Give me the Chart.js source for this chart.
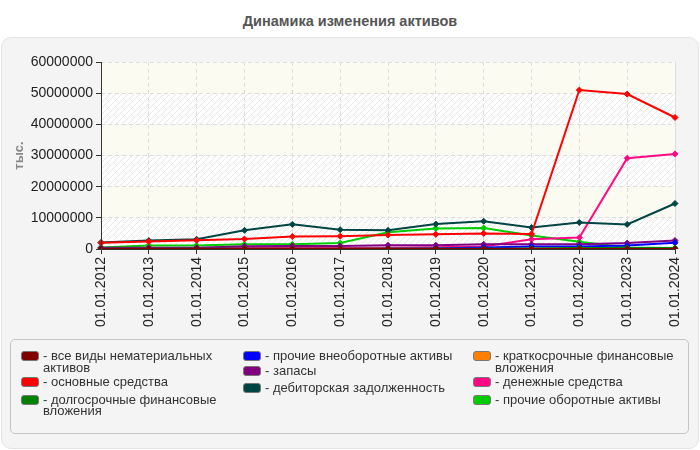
<!DOCTYPE html>
<html><head><meta charset="utf-8">
<script src="https://cdn.jsdelivr.net/npm/chart.js@4"></script>
<style>
html,body{margin:0;padding:0;background:#fff;width:700px;height:450px;overflow:hidden;font-family:"Liberation Sans",Arial,sans-serif;}
#title{position:absolute;left:0;top:13px;width:700px;text-align:center;font-weight:bold;font-size:14.5px;color:#555;}
#panel{position:absolute;left:1px;top:37px;width:696px;height:410px;background:#f4f4f4;border:1px solid #e4e4e4;border-radius:10px;}
#cv{position:absolute;left:0;top:0;}
#legend{position:absolute;left:10px;top:339px;width:677px;height:93px;border:1px solid #c4c4c4;border-radius:5px;}
.col{position:absolute;top:10px;}
.item{position:relative;padding-left:22px;font-size:13px;line-height:11.5px;color:#333;}
.item:nth-child(1){margin-bottom:3px;}
.item:nth-child(2){margin-bottom:6px;}
.box{position:absolute;left:0;top:1px;width:16px;height:8px;border-radius:3px;border:1px solid #777;}
</style></head>
<body>
<div id="title">Динамика изменения активов</div>
<div id="panel"></div>
<canvas id="cv" width="700" height="340"></canvas>
<div id="legend"></div>
<script>
const categories = ["01.01.2012","01.01.2013","01.01.2014","01.01.2015","01.01.2016","01.01.2017","01.01.2018","01.01.2019","01.01.2020","01.01.2021","01.01.2022","01.01.2023","01.01.2024"];
const intangible   = [10000,10000,10000,10000,10000,10000,10000,10000,10000,10000,10000,10000,10000];
const fixedAssets  = [2000000,2400000,2800000,3200000,4000000,4100000,4500000,4700000,5000000,4800000,51000000,49700000,42200000];
const longTermFin  = [50000,50000,50000,50000,50000,50000,50000,50000,100000,200000,300000,300000,300000];
const otherNonCur  = [20000,20000,20000,20000,20000,20000,100000,200000,500000,800000,800000,1100000,2000000];
const inventory    = [400000,400000,400000,900000,1000000,1000000,1200000,1200000,1500000,1500000,1500000,1900000,2700000];
const receivables  = [2100000,2700000,3100000,6000000,7900000,6200000,6000000,8000000,8900000,6900000,8500000,7900000,14600000];
const shortTermFin = [10000,10000,10000,10000,10000,10000,50000,100000,100000,100000,100000,100000,100000];
const cash         = [300000,300000,300000,300000,300000,300000,400000,600000,800000,3100000,3700000,29100000,30500000];
const otherCur     = [500000,1100000,1100000,1500000,1500000,1900000,5400000,6600000,6700000,4300000,2300000,500000,300000];
const yTicks = [0,10000000,20000000,30000000,40000000,50000000,60000000];

const seriesNames = ["все виды нематериальных активов","основные средства","долгосрочные финансовые вложения","прочие внеоборотные активы","запасы","дебиторская задолженность","краткосрочные финансовые вложения","денежные средства","прочие оборотные активы"];
const seriesData = [intangible,fixedAssets,longTermFin,otherNonCur,inventory,receivables,shortTermFin,cash,otherCur];
const seriesColors = ["#800000","#ff0000","#008000","#0000ff","#800080","#004444","#ff8000","#ff0a84","#00cc00"];
const yAxisTitle = "тыс.";

// hatch pattern tile
const pc = document.createElement('canvas'); pc.width=6; pc.height=6;
const px = pc.getContext('2d');
px.fillStyle='#ffffff'; px.fillRect(0,0,6,6);
px.strokeStyle='#e6e6e6'; px.lineWidth=1;
px.beginPath(); px.moveTo(0,6); px.lineTo(6,0); px.moveTo(-3,3); px.lineTo(3,-3); px.moveTo(3,9); px.lineTo(9,3); px.stroke();

const bandPlugin = {
  id:'bands',
  beforeDraw(chart){
    const ctx=chart.ctx, a=chart.chartArea, ys=chart.scales.y;
    const pat = ctx.createPattern(pc,'repeat');
    ctx.save();
    for(let i=0;i<yTicks.length-1;i++){
      const y0=ys.getPixelForValue(yTicks[i]), y1=ys.getPixelForValue(yTicks[i+1]);
      ctx.fillStyle = (i%2===0)? pat : '#fbfbf1';
      ctx.fillRect(a.left,y1,a.right-a.left,y0-y1);
    }
    ctx.strokeStyle='#dcdcdc'; ctx.lineWidth=1;
    ctx.beginPath(); ctx.moveTo(a.right+0.5,a.top); ctx.lineTo(a.right+0.5,a.bottom); ctx.stroke();
    ctx.restore();
  }
};
const axisPlugin = {
  id:'axes',
  afterDraw(chart){
    const ctx=chart.ctx,a=chart.chartArea;
    ctx.save(); ctx.strokeStyle='#333'; ctx.lineWidth=1; ctx.setLineDash([]);
    ctx.beginPath(); ctx.moveTo(a.left+0.5,a.top); ctx.lineTo(a.left+0.5,a.bottom+0.5); ctx.lineTo(a.right,a.bottom+0.5); ctx.stroke();
    ctx.restore();
  }
};

const datasets = seriesNames.map((n,i)=>({
  label:n, data:seriesData[i], borderColor:seriesColors[i], backgroundColor:seriesColors[i],
  borderWidth:2, pointStyle:'rectRot', pointRadius:3, pointBorderWidth:1, tension:0, fill:false
}));

new Chart(document.getElementById('cv'),{
  type:'line',
  data:{labels:categories,datasets:datasets},
  plugins:[bandPlugin,axisPlugin],
  options:{
    responsive:false, animation:false, devicePixelRatio:1,
    layout:{padding:{left:12,top:62,right:25,bottom:0}},
    plugins:{legend:{display:false},tooltip:{enabled:false},title:{display:false}},
    scales:{
      x:{
        grid:{color:'#dddddd',tickColor:'#333',tickLength:5,drawTicks:true},
        border:{display:false,dash:[4,3]},
        ticks:{maxRotation:90,minRotation:90,color:'#222',font:{family:'Liberation Sans',size:14},padding:3,autoSkip:false},
        afterFit(s){s.height=91;}
      },
      y:{
        min:0,max:60000000,
        afterBuildTicks(s){s.ticks=yTicks.map(v=>({value:v}));},
        grid:{color:'#dddddd',tickColor:'#333',tickLength:5},
        border:{display:false,dash:[4,3]},
        ticks:{color:'#222',font:{family:'Liberation Sans',size:14},padding:3,callback:v=>String(v)},
        title:{display:true,text:yAxisTitle,color:'#888',font:{family:'Liberation Sans',size:13,weight:'bold'},padding:{top:0,bottom:4}},
        afterFit(s){s.width=89;}
      }
    }
  }
});

// legend built from datasets
const lg=document.getElementById('legend');
const colLeft=[10,232,462];
const colWidth=[200,228,210];
for(let c=0;c<3;c++){
  const col=document.createElement('div'); col.className='col'; col.style.left=colLeft[c]+'px';
  col.style.width=colWidth[c]+'px';
  for(let r=0;r<3;r++){
    const i=c*3+r;
    const it=document.createElement('div'); it.className='item';
    const b=document.createElement('span'); b.className='box'; b.style.background=seriesColors[i];
    it.appendChild(b);
    it.appendChild(document.createTextNode('- '+seriesNames[i]));
    col.appendChild(it);
  }
  lg.appendChild(col);
}
</script>
</body></html>
